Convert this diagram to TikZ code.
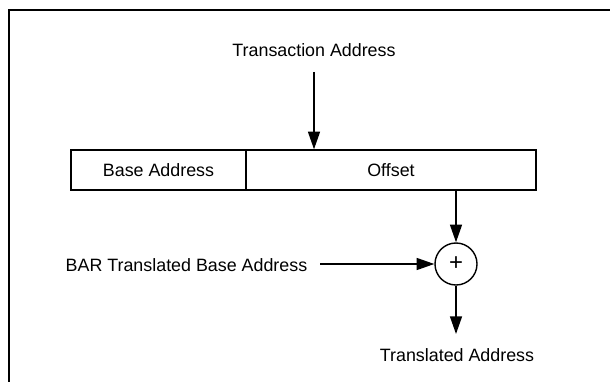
\documentclass[tikz,border=0pt]{standalone}
\usepackage{fontspec}
\setmainfont{Liberation Sans}
\usetikzlibrary{arrows.meta}
\begin{document}
\begin{tikzpicture}[x=0.025cm,y=-0.025cm,
  field/.style={draw,line width=1pt,minimum height=1cm,inner sep=0pt,font=\fontsize{12.7}{15}\selectfont},
  txt/.style={inner sep=1pt,font=\fontsize{12.7}{15}\selectfont},
  flow/.style={line width=1pt,-{Triangle[length=12.5pt,width=8.5pt]}}]
\useasboundingbox (0,0) rectangle (610,381);
\draw[line width=1.6pt] (615,10) -| (9,386);

\node[txt] (ta) at (314,50) {Transaction Address};
\node[field,minimum width=4.375cm] (base) at (158.5,170) {Base Address};
\node[field,minimum width=7.25cm] (off) at (391,170) {Offset};
\node[draw,circle,line width=1pt,minimum size=1.05cm,inner sep=0pt,font=\fontsize{17}{18}\selectfont] (sum) at (456,264) {+};
\node[txt,anchor=west] (bar) at (64,265) {BAR Translated Base Address};
\node[txt] (tr) at (457,355) {Translated Address};

\coordinate (ta0) at (314,72);
\coordinate (bar0) at (320,264);
\coordinate (tr0) at (456,334);

\draw[flow] (ta0) -- (ta0 |- off.north);
\draw[flow] (sum |- off.south) -- (sum.north);
\draw[flow] (bar0) -- (sum.west);
\draw[flow] (sum.south) -- (tr0);
\end{tikzpicture}
\end{document}
